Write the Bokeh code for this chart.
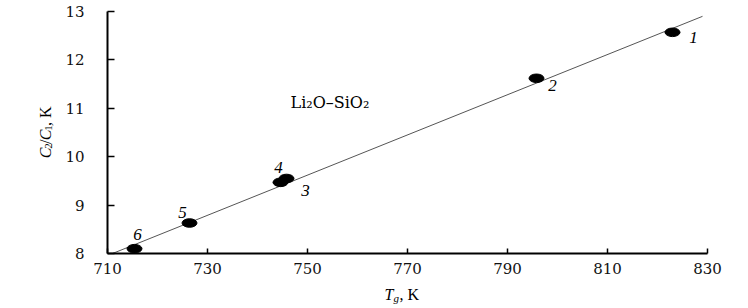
import math
from bokeh.plotting import figure
from bokeh.models import Label, FixedTicker, ColumnDataSource
from bokeh.layouts import row, column
from bokeh.core.properties import value
from bokeh.embed import file_html
from bokeh.resources import INLINE

# ---- data ----
tg = [823.0, 795.8, 745.8, 744.6, 726.4, 715.4]
c2c1 = [12.57, 11.62, 9.55, 9.47, 8.63, 8.10]
point_ids = ["1", "2", "3", "4", "5", "6"]
fit_x = [711.0, 829.0]
fit_y = [8.0, 12.9]
x_ticks = [710, 730, 750, 770, 790, 810, 830]
y_ticks = [8, 9, 10, 11, 12, 13]
system_name = "Li\u2082O\u2013SiO\u2082"

# label offsets (px, screen; y positive = down)
lab_dx = [21, 16, 19, -2, -7, 3]
lab_dy = [5, 7, 12, -15, -11, -14]

SERIF = "Liberation Serif"
TICKF = "DejaVu Serif"

LEFT_W = 55      # width of the y-title strip
MAIN_H = 282     # height of main figure
BOT_H = 24       # height of x-title strip
TOTAL_W = 740

p = figure(frame_width=600, frame_height=242,
           min_border_left=52, min_border_right=33, min_border_top=11, min_border_bottom=29,
           x_range=(710, 830), y_range=(8, 13),
           output_backend="svg", toolbar_location=None)
p.outline_line_color = None
p.xgrid.visible = False
p.ygrid.visible = False

for ax, ticks, tin in ((p.xaxis[0], x_ticks, 5), (p.yaxis[0], y_ticks, 7)):
    ax.ticker = FixedTicker(ticks=ticks)
    ax.minor_tick_line_color = None
    ax.major_tick_in = tin
    ax.major_tick_out = 0
    ax.axis_line_width = 2
    ax.major_tick_line_width = 1.5
    ax.axis_line_color = "black"
    ax.major_tick_line_color = "black"
    ax.major_label_text_font = TICKF
    ax.major_label_text_font_size = "15px"
    ax.major_label_text_color = "#111111"
p.xaxis.major_label_standoff = 9
p.yaxis.major_label_standoff = 23

# fit line
p.line(fit_x, fit_y, line_color="#555555", line_width=1)

# points
src = ColumnDataSource(dict(x=tg, y=c2c1, t=point_ids, dx=lab_dx, dy=lab_dy))
p.ellipse(x="x", y="y", width=3.0, height=0.177, source=src,
          fill_color="black", line_color="black")
p.text(x="x", y="y", text="t", x_offset="dx", y_offset="dy", source=src,
       text_font=value(SERIF), text_font_style="italic", text_font_size="17px",
       text_align="center", text_baseline="middle", text_color="black")

p.add_layout(Label(x=746.6, y=11.11, text=system_name,
                   text_font=TICKF, text_font_size="16px", text_color="black",
                   text_baseline="middle", text_align="left"))


def strip(w, h):
    f = figure(width=w, height=h, x_range=(0, w), y_range=(0, h),
               min_border=0, x_axis_type=None, y_axis_type=None,
               output_backend="svg", toolbar_location=None)
    f.outline_line_color = None
    f.xgrid.visible = False
    f.ygrid.visible = False
    return f


# y-axis title strip: C_2/C_1, K (rotated), coordinates = page px
py = strip(LEFT_W, MAIN_H)
yt = [("C", 45, 171, "italic", "16px"),
      ("2", 48, 160, "normal", "11px"),
      ("/", 45, 154.5, "normal", "16px"),
      ("C", 45, 150, "italic", "16px"),
      ("1", 48, 139, "normal", "11px"),
      (", K", 45, 133.5, "normal", "16px")]
for t, px, pgy, st, fs in yt:
    py.add_layout(Label(x=px, y=MAIN_H - pgy, text=t, text_font=SERIF,
                        text_font_style=st, text_font_size=fs, angle=math.pi / 2,
                        text_color="black",
                        text_align="left", text_baseline="alphabetic"))

# x-axis title strip: T_g, K
pb = strip(TOTAL_W, BOT_H)
xt = [("T", 384, 294, "italic", "16px"),
      ("g", 393, 297, "italic", "11px"),
      (", K", 399, 294, "normal", "16px")]
for t, px, pgy, st, fs in xt:
    pb.add_layout(Label(x=px, y=MAIN_H + BOT_H - pgy, text=t, text_font=SERIF,
                        text_font_style=st, text_font_size=fs, text_color="black",
                        text_align="left", text_baseline="alphabetic"))

layout = column(row(py, p, spacing=0), pb, spacing=0)
open("out.html", "w").write(file_html(layout, INLINE))
